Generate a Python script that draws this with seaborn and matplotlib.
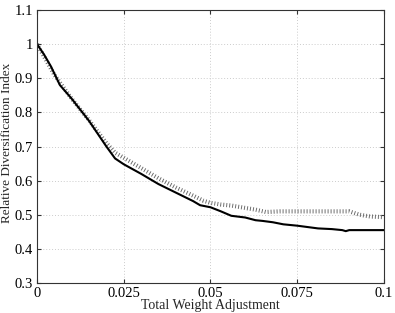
import numpy as np
import pandas as pd
import matplotlib
matplotlib.use('Agg')
import matplotlib.pyplot as plt
import seaborn as sns

# values
solid_x = [0, 0.002, 0.004, 0.0066, 0.01, 0.015, 0.02, 0.0225, 0.025, 0.03, 0.035,
           0.04, 0.045, 0.047, 0.05, 0.053, 0.056, 0.06, 0.063, 0.065, 0.068, 0.071,
           0.073, 0.075, 0.078, 0.081, 0.085, 0.088, 0.089, 0.09, 0.095, 0.1]
solid_y = [1.0, 0.97, 0.935, 0.88, 0.84, 0.775, 0.70, 0.665, 0.648, 0.62, 0.59,
           0.565, 0.54, 0.528, 0.522, 0.51, 0.497, 0.492, 0.484, 0.482, 0.478, 0.472,
           0.47, 0.468, 0.464, 0.46, 0.458, 0.455, 0.452, 0.455, 0.455, 0.455]

dotted_x = [0, 0.005, 0.01, 0.015, 0.02, 0.0225, 0.025, 0.03, 0.035, 0.04, 0.045,
            0.048, 0.05, 0.053, 0.056, 0.06, 0.063, 0.066, 0.07, 0.075, 0.08, 0.085,
            0.09, 0.093, 0.096, 0.1]
dotted_y = [1.0, 0.91, 0.84, 0.777, 0.71, 0.682, 0.667, 0.637, 0.607, 0.58, 0.556,
            0.541, 0.535, 0.53, 0.527, 0.52, 0.515, 0.508, 0.51, 0.51, 0.51, 0.51,
            0.51, 0.5, 0.495, 0.493]

x_ticks = [0, 0.025, 0.05, 0.075, 0.1]
x_labels = ["0", "0.025", "0.05", "0.075", "0.1"]
y_ticks = [0.3, 0.4, 0.5, 0.6, 0.7, 0.8, 0.9, 1.0, 1.1]
y_labels = ["0.3", "0.4", "0.5", "0.6", "0.7", "0.8", "0.9", "1", "1.1"]

sns.set_style("ticks")
plt.rcParams['font.family'] = ['Liberation Serif', 'DejaVu Serif']

fig = plt.figure(figsize=(3.95, 3.13), dpi=100)
ax = fig.add_axes([0.0937, 0.0958, 0.8783, 0.8722])

df_dot = pd.DataFrame({"x": dotted_x, "y": dotted_y})
df_sol = pd.DataFrame({"x": solid_x, "y": solid_y})

sns.lineplot(data=df_dot, x="x", y="y", ax=ax, color="#666666", linewidth=3.0,
             estimator=None, sort=False)
ax.lines[-1].set_dashes((0.22, 0.5))
sns.lineplot(data=df_sol, x="x", y="y", ax=ax, color="black", linewidth=1.5,
             estimator=None, sort=False)

ax.set_xlim(0, 0.1)
ax.set_ylim(0.3, 1.1)
ax.set_xticks(x_ticks)
ax.set_xticklabels(x_labels)
ax.set_yticks(y_ticks)
ax.set_yticklabels(y_labels)
ax.grid(True, linestyle=(0, (1, 2)), color="#cccccc", linewidth=0.7)
ax.tick_params(direction="in", length=3, labelsize=10.5, top=True, right=True,
               colors="#333333", labelcolor="black", pad=3)
for s in ax.spines.values():
    s.set_visible(True)
    s.set_color("#333333")
    s.set_linewidth(0.8)
ax.set_xlabel("Total Weight Adjustment", fontsize=10)
ax.set_ylabel("Relative Diversification Index", fontsize=9.5)
ax.xaxis.set_label_coords(0.5, -0.058)
ax.yaxis.set_label_coords(-0.069, 0.515)

fig.savefig("out.png", dpi=100)
